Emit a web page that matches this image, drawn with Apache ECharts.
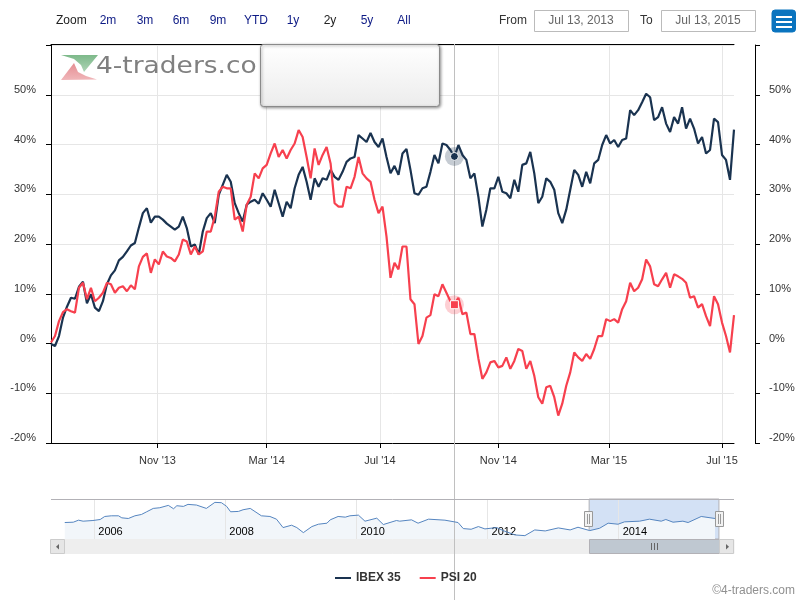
<!DOCTYPE html>
<html>
<head>
<meta charset="utf-8">
<title>IBEX 35 / PSI 20</title>
<style>
html, body { margin: 0; padding: 0; background: #fff; }
#chart { width: 805px; height: 600px; }
</style>
<script src="https://cdn.jsdelivr.net/npm/echarts@6/dist/echarts.min.js"></script>
</head>
<body>
<div id="chart"></div>
<script>
var FONT = '"Liberation Sans", Arial, sans-serif';

// % change, read every 3 trading sessions
var ibexValues = [
    -0.1, -0.5, 1.5, 5.2, 7.4, 9.2, 9.0, 11.4, 12.4, 8.1, 9.9, 7.2, 6.5, 8.5, 11.9, 13.7, 14.7, 16.7, 17.4, 18.5,
    19.7, 20.2, 23.3, 26.2, 27.2, 24.3, 25.5, 25.5, 24.9, 24.1, 23.5, 22.9, 23.5, 25.5, 23.2, 19.5, 19.9, 17.9, 22.5, 25.2,
    26.2, 24.2, 29.9, 31.9, 33.9, 32.5, 28.2, 26.2, 24.5, 27.9, 28.5, 28.9, 28.1, 30.2, 28.9, 27.5, 30.9, 28.2, 25.5, 28.5,
    27.2, 31.2, 33.9, 35.5, 32.5, 28.9, 33.2, 31.5, 33.2, 32.9, 34.9, 33.5, 32.9, 34.5, 36.5, 37.2, 37.5, 41.9, 41.2, 40.5,
    42.3, 40.5, 39.5, 41.2, 37.5, 34.2, 35.7, 33.9, 38.2, 39.1, 34.9, 30.2, 29.9, 31.2, 31.5, 34.5, 37.9, 36.2, 40.2, 39.9,
    38.9, 37.5, 39.9, 37.9, 36.9, 33.2, 34.2, 29.5, 23.5, 26.9, 31.2, 31.2, 33.5, 30.5, 30.2, 29.2, 32.9, 30.5, 35.9, 36.2,
    38.5, 34.2, 28.2, 29.5, 33.2, 32.5, 30.9, 26.2, 24.2, 26.9, 30.9, 34.9, 33.9, 31.5, 34.5, 32.2, 36.2, 36.9, 39.9, 41.9,
    40.2, 40.9, 39.5, 40.9, 41.2, 46.9, 45.9, 46.9, 48.5, 50.2, 49.5, 44.9, 45.5, 47.5, 44.2, 42.5, 45.5, 44.2, 47.5, 43.2,
    45.2, 43.2, 40.2, 41.5, 38.2, 38.9, 45.2, 44.5, 37.9, 36.9, 32.9, 43.0
];
var psiValues = [
    0.2, 1.5, 4.5, 6.3, 6.9, 6.5, 6.2, 11.2, 12.2, 8.9, 11.2, 8.5, 9.2, 10.2, 12.2, 11.9, 10.2, 11.2, 11.5, 10.5,
    11.7, 10.9, 15.5, 17.4, 18.1, 14.2, 16.9, 15.9, 18.5, 17.5, 17.2, 16.5, 17.9, 20.9, 20.5, 17.9, 19.5, 17.9, 18.5, 22.5,
    22.5, 25.5, 30.5, 31.5, 31.2, 31.2, 24.9, 25.5, 22.5, 27.9, 29.5, 34.2, 33.2, 35.2, 35.9, 38.2, 40.2, 37.5, 38.9, 37.2,
    38.9, 40.2, 42.9, 41.5, 37.5, 33.2, 39.2, 35.9, 37.9, 39.5, 36.2, 28.2, 27.5, 27.5, 31.5, 31.2, 33.5, 37.5, 34.2, 33.2,
    32.5, 28.9, 26.2, 27.5, 21.5, 13.2, 16.2, 14.9, 19.5, 19.5, 8.9, 7.9, -0.1, 1.5, 5.2, 5.7, 9.9, 9.5, 11.9, 10.2,
    8.5, 7.9, 9.2, 5.9, 6.2, 1.9, 1.9, -3.0, -7.1, -5.8, -3.8, -3.5, -4.8, -4.5, -2.8, -5.1, -3.5, -1.1, -1.5, -5.1,
    -3.5, -6.5, -10.8, -12.1, -8.8, -8.5, -10.8, -14.5, -12.1, -8.5, -5.8, -1.8, -2.8, -3.5, -2.1, -3.1, -1.1, 1.5, 1.5, 4.9,
    4.5, 4.9, 4.2, 6.9, 8.5, 12.2, 10.5, 11.2, 12.9, 16.9, 15.5, 11.9, 11.5, 12.9, 14.2, 11.2, 13.9, 13.5, 13.0, 12.2,
    9.2, 9.5, 7.2, 7.9, 5.5, 3.5, 9.5, 7.9, 4.2, 1.5, -1.8, 5.7
];

// the x axis counts trading sessions, there are no gaps for weekends
var sessionStep = 3;
var lastSession = 513;
var tickSessions = [80, 162, 247, 336, 419, 504];
var tickLabels = ["Nov '13", "Mar '14", "Jul '14", "Nov '14", "Mar '15", "Jul '15"];

// hovered point
var hoverSession = 303;
var hoverIbex = 37.6;
var hoverPsi = 7.8;

// navigator: long history, in plain chart units
var navYears = [
    2005.55, 2005.68, 2005.76, 2005.83, 2005.98, 2006.09, 2006.16, 2006.26, 2006.37, 2006.42, 2006.52, 2006.62, 2006.72,
    2006.80, 2006.90, 2007.00, 2007.13, 2007.21, 2007.26, 2007.36, 2007.43, 2007.56, 2007.71, 2007.84, 2007.94, 2008.02,
    2008.08, 2008.20, 2008.27, 2008.38, 2008.55, 2008.68, 2008.78, 2008.88, 2009.01, 2009.09, 2009.19, 2009.32, 2009.42,
    2009.55, 2009.60, 2009.72, 2009.83, 2009.90, 2010.03, 2010.13, 2010.31, 2010.41, 2010.61, 2010.66, 2010.84, 2010.94,
    2011.10, 2011.35, 2011.55, 2011.63, 2011.75, 2011.86, 2011.96, 2012.14, 2012.24, 2012.42, 2012.57, 2012.72, 2012.88,
    2013.08, 2013.26, 2013.38, 2013.56, 2013.71, 2013.84, 2013.99, 2014.09, 2014.32, 2014.47, 2014.65, 2014.72, 2014.83,
    2014.98, 2015.06, 2015.26, 2015.47
];
var navValues = [
    49, 50, 56, 53, 55, 58, 67, 69, 69, 63, 61, 69, 73,
    81, 91, 93, 100, 90, 99, 97, 103, 101, 91, 109, 108, 97,
    81, 82, 87, 91, 69, 67, 59, 34, 41, 34, 19, 37, 44,
    47, 57, 67, 65, 69, 71, 53, 62, 43, 55, 53, 57, 47,
    59, 56, 49, 31, 29, 37, 30, 34, 25, 12, 10, 27, 24,
    33, 27, 35, 25, 32, 47, 44, 51, 53, 59, 53, 58, 50,
    53, 49, 67, 61
];
var navTicks = [2006, 2008, 2010, 2012, 2014];
var navRange = [2013.55, 2015.53];

function sessionPairs(ys) {
    var out = [];
    for (var i = 0; i < ys.length; i++) {
        out.push([i * sessionStep, ys[i]]);
    }
    return out;
}

function pairs(xs, ys) {
    var out = [];
    for (var i = 0; i < ys.length; i++) {
        out.push([xs[i], ys[i]]);
    }
    return out;
}

function yLabel(v) {
    return v === 60 ? '' : v + '%';
}

function mainYAxis(position, offset) {
    return {
        type: 'value',
        gridIndex: 0,
        position: position,
        offset: offset,
        min: -20,
        max: 60,
        interval: 10,
        axisLine: { show: true, onZero: false, lineStyle: { color: '#000', width: 1 } },
        axisTick: { show: true, length: 5, lineStyle: { color: '#000', width: 1 } },
        axisLabel: {
            formatter: yLabel,
            color: '#333',
            fontFamily: FONT,
            fontSize: 11,
            margin: position === 'left' ? 15 : 14,
            verticalAlign: 'bottom',
            lineHeight: 10
        },
        splitLine: { show: position === 'left', lineStyle: { color: '#e6e6e6', width: 1 } }
    };
}

var chart = echarts.init(document.getElementById('chart'));

chart.setOption({
    animation: false,
    backgroundColor: '#fff',
    textStyle: { fontFamily: FONT },
    legend: {
        data: ['IBEX 35', 'PSI 20'],
        left: 335,
        top: 572,
        icon: 'rect',
        itemWidth: 16,
        itemHeight: 2,
        itemGap: 19,
        padding: 0,
        textStyle: { color: '#333', fontFamily: FONT, fontSize: 12, fontWeight: 'bold', padding: [0, 0, 0, 0] },
        selectedMode: false
    },
    grid: [
        { left: 51, top: 45, width: 683, height: 398 },
        { left: 51, top: 499, width: 683, height: 40 }
    ],
    xAxis: [
        {
            type: 'value',
            gridIndex: 0,
            min: 0,
            max: lastSession,
            axisLine: { show: true, onZero: false, lineStyle: { color: '#000', width: 1 } },
            axisTick: { show: true, length: 5, customValues: tickSessions, lineStyle: { color: '#000', width: 1 } },
            axisLabel: {
                customValues: tickSessions,
                color: '#333',
                fontFamily: FONT,
                fontSize: 11,
                margin: 12,
                hideOverlap: false,
                formatter: function (value) {
                    return tickLabels[tickSessions.indexOf(value)];
                }
            },
            splitLine: { show: true, lineStyle: { color: '#e6e6e6', width: 1 } }
        },
        // top border of the plot
        {
            type: 'value',
            gridIndex: 0,
            position: 'top',
            offset: 1,
            min: 0,
            max: lastSession,
            axisLine: { show: true, onZero: false, lineStyle: { color: '#000', width: 1 } },
            axisTick: { show: false },
            axisLabel: { show: false },
            splitLine: { show: false }
        },
        // navigator
        {
            type: 'value',
            gridIndex: 1,
            z: 3,
            min: 2005.34,
            max: 2015.76,
            axisLine: { show: false },
            axisTick: { show: true, inside: true, length: 40, customValues: navTicks, lineStyle: { color: '#e6e6e6', width: 1 } },
            axisLabel: {
                inside: true,
                customValues: navTicks,
                align: 'left',
                verticalAlign: 'bottom',
                color: '#000',
                fontFamily: FONT,
                fontSize: 11,
                margin: 2,
                padding: [0, 0, 0, 4],
                formatter: function (value) {
                    return String(value);
                }
            },
            splitLine: { show: false }
        }
    ],
    yAxis: [
        mainYAxis('left', 0),
        mainYAxis('right', 21),
        { type: 'value', gridIndex: 1, min: 0, max: 119, show: false }
    ],
    series: [
        {
            name: 'IBEX 35',
            type: 'line',
            xAxisIndex: 0,
            yAxisIndex: 0,
            data: sessionPairs(ibexValues),
            showSymbol: false,
            lineStyle: { color: '#1a3350', width: 2.2 },
            itemStyle: { color: '#1a3350' },
            markPoint: {
                silent: true,
                label: { show: false },
                data: [
                    { coord: [hoverSession, hoverIbex], symbol: 'circle', symbolSize: 19, itemStyle: { color: 'rgba(26,51,80,0.25)' } },
                    { coord: [hoverSession, hoverIbex], symbol: 'circle', symbolSize: 8, itemStyle: { color: '#1a3350', borderColor: '#fff', borderWidth: 1 } }
                ]
            }
        },
        {
            name: 'PSI 20',
            type: 'line',
            xAxisIndex: 0,
            yAxisIndex: 0,
            data: sessionPairs(psiValues),
            showSymbol: false,
            lineStyle: { color: '#f7404e', width: 2.2 },
            itemStyle: { color: '#f7404e' },
            markPoint: {
                silent: true,
                label: { show: false },
                data: [
                    { coord: [hoverSession, hoverPsi], symbol: 'circle', symbolSize: 19, itemStyle: { color: 'rgba(247,64,78,0.25)' } },
                    { coord: [hoverSession, hoverPsi], symbol: 'rect', symbolSize: 8, itemStyle: { color: '#f7404e', borderColor: '#fff', borderWidth: 1 } }
                ]
            }
        },
        {
            name: 'navigator',
            type: 'line',
            xAxisIndex: 2,
            yAxisIndex: 2,
            data: pairs(navYears, navValues),
            showSymbol: false,
            lineStyle: { color: '#5585c0', width: 1 },
            itemStyle: { color: '#5585c0' },
            areaStyle: { color: '#f2f6fa', opacity: 1 },
            markArea: {
                silent: true,
                itemStyle: { color: 'rgba(69,130,213,0.24)', borderColor: '#b2b1b6', borderWidth: 1 },
                data: [[{ xAxis: navRange[0], yAxis: 0 }, { xAxis: navRange[1], yAxis: 119 }]]
            }
        }
    ]
});

function label(text, x, color, align) {
    return {
        type: 'text',
        z: 20,
        style: { text: text, x: x, y: 21, fill: color, font: '12px ' + FONT, align: align || 'center', verticalAlign: 'middle' }
    };
}

function box(x, y, w, h, fill, stroke, r, z) {
    return {
        type: 'rect',
        z: z || 20,
        shape: { x: x, y: y, width: w, height: h, r: r || 0 },
        style: { fill: fill, stroke: stroke, lineWidth: 1 }
    };
}

function seg(x1, y1, x2, y2, color, z) {
    return {
        type: 'line',
        z: z || 20,
        shape: { x1: x1, y1: y1, x2: x2, y2: y2 },
        style: { stroke: color, lineWidth: 1 }
    };
}

var hoverX = Math.round(chart.convertToPixel({ xAxisIndex: 0 }, hoverSession)) + 0.5;

var extras = [
    // range buttons
    label('Zoom', 56, '#222', 'left'),
    label('2m', 108, '#0d1a85'),
    label('3m', 145, '#0d1a85'),
    label('6m', 181, '#0d1a85'),
    label('9m', 218, '#0d1a85'),
    label('YTD', 256, '#0d1a85'),
    label('1y', 293, '#0d1a85'),
    label('2y', 330, '#222'),
    label('5y', 367, '#0d1a85'),
    label('All', 404, '#0d1a85'),

    // date inputs
    label('From', 499, '#333', 'left'),
    box(534.5, 10.5, 94, 21, '#fff', '#bbb'),
    label('Jul 13, 2013', 581, '#666'),
    label('To', 640, '#333', 'left'),
    box(661.5, 10.5, 94, 21, '#fff', '#bbb'),
    label('Jul 13, 2015', 708, '#666'),

    // menu button
    box(772, 10, 23.5, 22, '#0a74bf', '#0a74bf', 3),
    { type: 'rect', z: 21, shape: { x: 776, y: 16, width: 16, height: 2 }, style: { fill: '#fff' } },
    { type: 'rect', z: 21, shape: { x: 776, y: 21, width: 16, height: 2 }, style: { fill: '#fff' } },
    { type: 'rect', z: 21, shape: { x: 776, y: 26, width: 16, height: 2 }, style: { fill: '#fff' } },

    // watermark
    {
        type: 'polygon', z: 1,
        shape: { points: [[61, 55], [98, 55], [84, 72], [81, 65], [74, 59]] },
        style: { fill: { type: 'linear', x: 0, y: 0, x2: 0, y2: 1, colorStops: [{ offset: 0, color: '#7db98a' }, { offset: 1, color: '#aed4b6' }] } }
    },
    {
        type: 'polygon', z: 1,
        shape: { points: [[61, 80], [74, 63], [78, 72], [86, 76], [97, 79.5]] },
        style: { fill: { type: 'linear', x: 0, y: 0, x2: 0, y2: 1, colorStops: [{ offset: 0, color: '#e58d92' }, { offset: 1, color: '#f0b6b9' }] } }
    },
    {
        type: 'text', z: 1,
        x: 96,
        y: 67,
        scaleX: 1.15,
        style: { text: '4-traders.co', x: 0, y: 0, fill: '#808080', font: '23px "DejaVu Sans"', verticalAlign: 'middle' }
    },

    // empty tooltip box
    {
        type: 'rect', z: 10,
        shape: { x: 260.5, y: 44.5, width: 179, height: 62, r: 3 },
        style: {
            fill: { type: 'linear', x: 0, y: 0, x2: 0, y2: 1, colorStops: [{ offset: 0, color: '#fff' }, { offset: 1, color: '#ececec' }] },
            stroke: '#8a8a8a',
            lineWidth: 1,
            shadowBlur: 3,
            shadowOffsetX: 1,
            shadowOffsetY: 1,
            shadowColor: 'rgba(0,0,0,0.4)'
        }
    },

    // crosshair
    seg(hoverX, 44, hoverX, 600, '#c0c0c0', 3),

    // navigator frame and scrollbar
    seg(51, 499.5, 734, 499.5, '#b2b1b6', 4),
    box(51, 539.5, 683, 14, '#eeeeee', '#eeeeee', 0, 2),
    box(589.5, 539.5, 130, 14, '#bfc8d1', '#b2b1b6', 0, 3),
    seg(651.5, 543, 651.5, 550, '#666', 4),
    seg(654.5, 543, 654.5, 550, '#666', 4),
    seg(657.5, 543, 657.5, 550, '#666', 4),
    box(50.5, 539.5, 14, 14, '#e6e6e6', '#cccccc', 0, 4),
    { type: 'polygon', z: 5, shape: { points: [[59, 544], [59, 549.5], [56, 546.7]] }, style: { fill: '#666' } },
    box(719.5, 539.5, 14, 14, '#e6e6e6', '#cccccc', 0, 4),
    { type: 'polygon', z: 5, shape: { points: [[726, 544], [726, 549.5], [729, 546.7]] }, style: { fill: '#666' } },

    // navigator handles
    box(584.5, 511.5, 8, 15, '#f2f2f2', '#999', 0, 6),
    seg(587.5, 514, 587.5, 524, '#999', 7),
    seg(589.5, 514, 589.5, 524, '#999', 7),
    box(715.5, 511.5, 8, 15, '#f2f2f2', '#999', 0, 6),
    seg(718.5, 514, 718.5, 524, '#999', 7),
    seg(720.5, 514, 720.5, 524, '#999', 7),

    // credit
    {
        type: 'text', z: 20,
        style: { text: '\u00a94-traders.com', x: 795, y: 591, fill: '#909090', font: '12px ' + FONT, align: 'right', verticalAlign: 'middle' }
    }
];

chart.setOption({ graphic: { elements: extras } });
</script>
</body>
</html>
